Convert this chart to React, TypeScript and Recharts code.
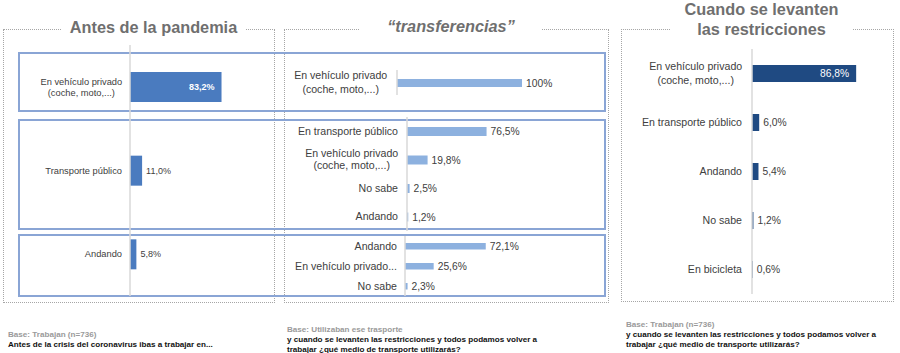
import React from 'react';
import { BarChart, Bar, XAxis, YAxis, LabelList } from 'recharts';

const FONT = '"Liberation Sans", Arial, Helvetica, sans-serif';

// Antes de la pandemia
const antesLabels = ['En vehículo privado\n(coche, moto,...)', 'Transporte público', 'Andando'];
const antesValues = [83.2, 11.0, 5.8];

// "transferencias" - tres bloques
const transPrivLabels = ['En vehículo privado\n(coche, moto,...)'];
const transPrivValues = [100];
const transPubLabels = ['En transporte público', 'En vehículo privado\n(coche, moto,...)', 'No sabe', 'Andando'];
const transPubValues = [76.5, 19.8, 2.5, 1.2];
const transAndLabels = ['Andando', 'En vehículo privado...', 'No sabe'];
const transAndValues = [72.1, 25.6, 2.3];

// Cuando se levanten las restricciones
const despuesLabels = [
  'En vehículo privado\n(coche, moto,...)',
  'En transporte público',
  'Andando',
  'No sabe',
  'En bicicleta',
];
const despuesValues = [86.8, 6.0, 5.4, 1.2, 0.6];

const fmt = (v: number) => (v === 100 ? '100%' : v.toFixed(1).replace('.', ',') + '%');

type BlockProps = {
  labels: string[];
  values: number[];
  axisX: number;
  top: number;
  height: number;
  plotW: number;
  color: string;
  barSize: number;
  fontSize: number;
  lineH: number;
  gap: number;
  insideFrom?: number;
  insideBold?: boolean;
};

function Block(p: BlockProps) {
  const data = p.labels.map((name, i) => ({ name, value: p.values[i] }));
  const yw = 140;
  const right = 50;

  const renderTick = (props: any) => {
    const { x, y, payload } = props;
    const lines = String(payload.value).split('\n');
    if (lines.length === 1) {
      return (
        <text x={x} y={y} dy="0.35em" textAnchor="end" fontSize={p.fontSize} fill="#404040" fontFamily={FONT}>
          {lines[0]}
        </text>
      );
    }
    // texto de dos líneas centrado bajo la primera
    const cx = x - lines[0].length * p.fontSize * 0.23;
    return (
      <text textAnchor="middle" fontSize={p.fontSize} fill="#404040" fontFamily={FONT}>
        {lines.map((l, i) => (
          <tspan key={i} x={cx} y={y + (i - (lines.length - 1) / 2) * p.lineH} dy="0.35em">
            {l}
          </tspan>
        ))}
      </text>
    );
  };

  const renderValue = (props: any) => {
    const vb = props.viewBox && props.viewBox.width != null ? props.viewBox : props;
    const { x, y, width, height } = vb;
    const value = Number(props.value);
    const inside = p.insideFrom != null && value >= p.insideFrom;
    return (
      <text
        x={inside ? x + width - 7 : x + width + 4}
        y={y + height / 2}
        dy="0.35em"
        textAnchor={inside ? 'end' : 'start'}
        fontSize={p.fontSize * 0.97}
        fontWeight={inside && p.insideBold ? 'bold' : 'normal'}
        fill={inside ? '#ffffff' : '#404040'}
        fontFamily={FONT}
      >
        {fmt(value)}
      </text>
    );
  };

  return (
    <div style={{ position: 'absolute', left: p.axisX - yw, top: p.top }}>
      <BarChart
        layout="vertical"
        width={yw + p.plotW + right}
        height={p.height}
        data={data}
        margin={{ top: 0, right, bottom: 0, left: 0 }}
      >
        <XAxis type="number" domain={[0, 100]} hide />
        <YAxis
          type="category"
          dataKey="name"
          width={yw}
          interval={0}
          tickSize={0}
          tickMargin={p.gap}
          tickLine={false}
          axisLine={{ stroke: '#d9d9d9', strokeWidth: 1.5 }}
          tick={renderTick}
        />
        <Bar dataKey="value" fill={p.color} barSize={p.barSize} isAnimationActive={false}>
          <LabelList dataKey="value" content={renderValue} />
        </Bar>
      </BarChart>
    </div>
  );
}

const dotted = (left: number, top: number, w: number, h: number) => (
  <div
    style={{
      position: 'absolute',
      left,
      top,
      width: w,
      height: h,
      border: '1px dotted #a6a6a6',
      boxSizing: 'border-box',
    }}
  />
);

const solid = (left: number, top: number, w: number, h: number) => (
  <div
    style={{
      position: 'absolute',
      left,
      top,
      width: w,
      height: h,
      border: '2px solid #8aa5d5',
      boxSizing: 'border-box',
    }}
  />
);

const titleStyle: React.CSSProperties = {
  position: 'absolute',
  background: '#ffffff',
  textAlign: 'center',
  fontWeight: 'bold',
  fontSize: 16.3,
  lineHeight: '20px',
  color: '#6f6f6f',
  whiteSpace: 'nowrap',
};

const footBase: React.CSSProperties = {
  position: 'absolute',
  fontSize: 8.1,
  lineHeight: '10px',
  fontWeight: 'bold',
  whiteSpace: 'nowrap',
};

export default function App() {
  return (
    <div
      style={{
        position: 'absolute',
        left: 0,
        top: 0,
        width: 900,
        height: 353,
        overflow: 'hidden',
        background: '#ffffff',
        fontFamily: FONT,
      }}
    >
      {dotted(3, 29, 272, 274)}
      {dotted(284, 29, 325, 274)}
      {dotted(621, 29, 273, 273)}

      {solid(18, 52, 588, 60)}
      {solid(18, 119, 588, 111)}
      {solid(18, 234, 588, 63)}

      <div style={{ ...titleStyle, left: 62, top: 17, width: 183 }}>Antes de la pandemia</div>
      <div style={{ ...titleStyle, left: 360, top: 16, width: 182, fontStyle: 'italic' }}>“transferencias”</div>
      <div style={{ ...titleStyle, left: 670, top: -1, width: 183 }}>
        Cuando se levanten
        <br />
        las restricciones
      </div>

      <Block
        labels={antesLabels}
        values={antesValues}
        axisX={130}
        top={45}
        height={251}
        plotW={110}
        color="#4a7bbf"
        barSize={30}
        fontSize={9.3}
        lineH={11}
        gap={8}
        insideFrom={50}
        insideBold
      />
      <Block
        labels={transPrivLabels}
        values={transPrivValues}
        axisX={397}
        top={70}
        height={25}
        plotW={125}
        color="#8db1df"
        barSize={8}
        fontSize={10.6}
        lineH={14}
        gap={10}
      />
      <Block
        labels={transPubLabels}
        values={transPubValues}
        axisX={407}
        top={117}
        height={114}
        plotW={104}
        color="#8db1df"
        barSize={9}
        fontSize={10.6}
        lineH={12}
        gap={9}
      />
      <Block
        labels={transAndLabels}
        values={transAndValues}
        axisX={405}
        top={236}
        height={60}
        plotW={112}
        color="#8db1df"
        barSize={6.5}
        fontSize={10.6}
        lineH={12}
        gap={8}
      />
      <Block
        labels={despuesLabels}
        values={despuesValues}
        axisX={752}
        top={49}
        height={245}
        plotW={120}
        color="#1f4a82"
        barSize={17}
        fontSize={10.6}
        lineH={13.5}
        gap={10}
        insideFrom={50}
      />

      <div style={{ ...footBase, left: 8, top: 330 }}>
        <div style={{ color: '#9a9a9a' }}>Base: Trabajan (n=736)</div>
        <div style={{ color: '#111111' }}>Antes de la crisis del coronavirus ibas a trabajar en...</div>
      </div>
      <div style={{ ...footBase, left: 287, top: 325 }}>
        <div style={{ color: '#9a9a9a' }}>Base: Utilizaban ese trasporte</div>
        <div style={{ color: '#111111' }}>y cuando se levanten las restricciones y todos podamos volver a</div>
        <div style={{ color: '#111111' }}>trabajar ¿qué medio de transporte utilizarás?</div>
      </div>
      <div style={{ ...footBase, left: 626, top: 320 }}>
        <div style={{ color: '#9a9a9a' }}>Base: Trabajan (n=736)</div>
        <div style={{ color: '#111111' }}>y cuando se levanten las restricciones y todos podamos volver a</div>
        <div style={{ color: '#111111' }}>trabajar ¿qué medio de transporte utilizarás?</div>
      </div>
    </div>
  );
}
